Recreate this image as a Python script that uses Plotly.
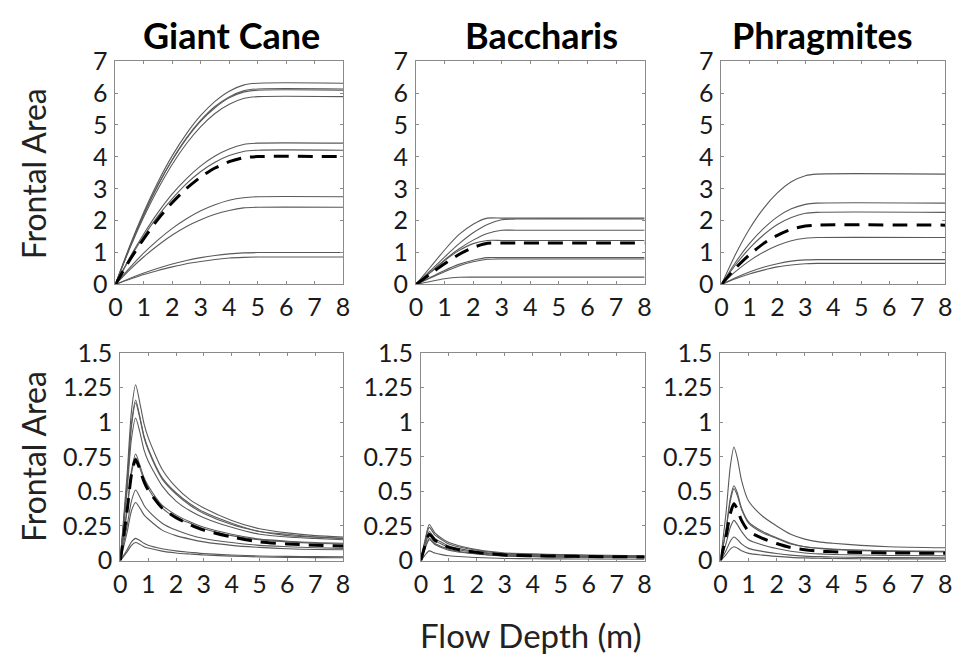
import plotly.graph_objects as go

# ---------------- data ----------------
PANELS = ["Giant Cane", "Baccharis", "Phragmites"]

# Top row: frontal area vs flow depth
X_TOP_GC = [0, 0.5, 1, 1.5, 2, 2.5, 3, 3.5, 4, 4.5, 5, 8]
GC_TOP = [
    [0, 1.20, 2.27, 3.22, 4.04, 4.73, 5.30, 5.74, 6.06, 6.25, 6.31, 6.31],
    [0, 1.16, 2.21, 3.13, 3.92, 4.60, 5.15, 5.58, 5.88, 6.07, 6.13, 6.13],
    [0, 1.16, 2.19, 3.11, 3.90, 4.57, 5.12, 5.54, 5.85, 6.03, 6.09, 6.09],
    [0, 1.12, 2.12, 3.00, 3.77, 4.42, 4.95, 5.36, 5.65, 5.83, 5.89, 5.89],
    [0, 0.84, 1.59, 2.26, 2.84, 3.32, 3.72, 4.03, 4.25, 4.39, 4.43, 4.43],
    [0, 0.80, 1.52, 2.15, 2.69, 3.16, 3.54, 3.83, 4.04, 4.17, 4.21, 4.21],
    [0, 0.52, 0.99, 1.40, 1.76, 2.06, 2.31, 2.50, 2.64, 2.72, 2.75, 2.75],
    [0, 0.46, 0.87, 1.23, 1.55, 1.82, 2.03, 2.20, 2.32, 2.40, 2.42, 2.42],
    [0, 0.19, 0.36, 0.51, 0.64, 0.75, 0.84, 0.91, 0.96, 0.99, 1.00, 1.00],
    [0, 0.16, 0.31, 0.44, 0.55, 0.65, 0.72, 0.78, 0.83, 0.85, 0.86, 0.86],
]
GC_TOP_MEAN = [0, 0.76, 1.44, 2.05, 2.57, 3.01, 3.37, 3.65, 3.85, 3.97, 4.01, 4.01]

X_TOP_BA = [0, 0.5, 1, 1.5, 2, 2.5, 3, 3.5, 8]
BA_TOP = [
    [0, 0.54, 1.08, 1.56, 1.89, 2.08, 2.08, 2.08, 2.08],
    [0, 0.43, 0.86, 1.27, 1.62, 1.88, 2.03, 2.05, 2.05],
    [0, 0.38, 0.77, 1.11, 1.39, 1.60, 1.70, 1.70, 1.70],
    [0, 0.37, 0.75, 1.06, 1.28, 1.38, 1.38, 1.38, 1.38],
    [0, 0.22, 0.44, 0.63, 0.76, 0.84, 0.84, 0.84, 0.84],
    [0, 0.20, 0.40, 0.58, 0.71, 0.79, 0.80, 0.80, 0.80],
    [0, 0.094, 0.177, 0.225, 0.23, 0.23, 0.23, 0.23, 0.23],
]
BA_TOP_MEAN = [0, 0.33, 0.65, 0.94, 1.16, 1.29, 1.30, 1.30, 1.30]

X_TOP_PH = [0, 0.5, 1, 1.5, 2, 2.5, 3, 3.4, 8]
PH_TOP = [
    [0, 0.94, 1.74, 2.38, 2.87, 3.22, 3.41, 3.46, 3.46],
    [0, 0.69, 1.28, 1.75, 2.12, 2.37, 2.51, 2.55, 2.55],
    [0, 0.61, 1.13, 1.55, 1.88, 2.10, 2.23, 2.26, 2.26],
    [0, 0.40, 0.74, 1.01, 1.22, 1.37, 1.45, 1.47, 1.47],
    [0, 0.21, 0.39, 0.54, 0.65, 0.73, 0.77, 0.78, 0.78],
    [0, 0.18, 0.33, 0.45, 0.55, 0.61, 0.65, 0.66, 0.66],
]
PH_TOP_MEAN = [0, 0.51, 0.93, 1.28, 1.54, 1.73, 1.83, 1.86, 1.86]

# Bottom row: frontal area per depth
X_BOT_GC = [0, 0.25, 0.4, 0.55, 0.7, 0.85, 1, 1.5, 2, 2.5, 3, 4, 5, 6, 7, 8]
GC_BOT = [
    [0, 0.64, 1.08, 1.27, 1.14, 0.99, 0.89, 0.66, 0.53, 0.44, 0.38, 0.29, 0.23, 0.20, 0.18, 0.17],
    [0, 0.58, 0.99, 1.16, 1.04, 0.90, 0.81, 0.60, 0.49, 0.41, 0.35, 0.27, 0.21, 0.19, 0.17, 0.16],
    [0, 0.57, 0.97, 1.14, 1.03, 0.89, 0.80, 0.59, 0.48, 0.40, 0.34, 0.26, 0.21, 0.18, 0.17, 0.16],
    [0, 0.52, 0.88, 1.03, 0.93, 0.80, 0.72, 0.54, 0.43, 0.36, 0.31, 0.24, 0.19, 0.17, 0.16, 0.15],
    [0, 0.39, 0.65, 0.77, 0.69, 0.60, 0.54, 0.40, 0.33, 0.28, 0.24, 0.19, 0.155, 0.14, 0.13, 0.125],
    [0, 0.37, 0.63, 0.74, 0.67, 0.58, 0.52, 0.38, 0.31, 0.27, 0.23, 0.18, 0.15, 0.135, 0.125, 0.12],
    [0, 0.26, 0.43, 0.51, 0.46, 0.40, 0.36, 0.27, 0.22, 0.185, 0.16, 0.13, 0.11, 0.10, 0.092, 0.088],
    [0, 0.21, 0.36, 0.42, 0.38, 0.33, 0.30, 0.22, 0.18, 0.155, 0.135, 0.11, 0.095, 0.085, 0.08, 0.078],
    [0, 0.08, 0.135, 0.16, 0.145, 0.125, 0.11, 0.085, 0.07, 0.06, 0.05, 0.04, 0.033, 0.03, 0.028, 0.027],
    [0, 0.065, 0.11, 0.13, 0.117, 0.10, 0.09, 0.068, 0.055, 0.047, 0.04, 0.032, 0.026, 0.023, 0.021, 0.02],
]
GC_BOT_MEAN = [0, 0.37, 0.62, 0.73, 0.66, 0.57, 0.51, 0.38, 0.31, 0.26, 0.22, 0.17, 0.135, 0.12, 0.11, 0.105]

X_BOT_BA = [0, 0.15, 0.3, 0.5, 0.75, 1, 1.5, 2, 2.5, 3, 4, 5, 6, 8]
BA_BOT = [
    [0, 0.15, 0.26, 0.20, 0.16, 0.13, 0.10, 0.08, 0.065, 0.055, 0.048, 0.043, 0.04, 0.035],
    [0, 0.14, 0.24, 0.185, 0.15, 0.12, 0.092, 0.074, 0.06, 0.05, 0.044, 0.04, 0.037, 0.032],
    [0, 0.12, 0.21, 0.16, 0.13, 0.105, 0.081, 0.065, 0.053, 0.044, 0.039, 0.035, 0.032, 0.028],
    [0, 0.11, 0.19, 0.146, 0.118, 0.095, 0.073, 0.059, 0.048, 0.04, 0.035, 0.031, 0.029, 0.026],
    [0, 0.093, 0.16, 0.123, 0.10, 0.08, 0.062, 0.05, 0.04, 0.034, 0.03, 0.026, 0.025, 0.022],
    [0, 0.087, 0.15, 0.116, 0.093, 0.075, 0.058, 0.047, 0.038, 0.032, 0.028, 0.025, 0.023, 0.02],
    [0, 0.04, 0.07, 0.054, 0.043, 0.035, 0.027, 0.022, 0.018, 0.015, 0.013, 0.012, 0.011, 0.009],
]
BA_BOT_MEAN = [0, 0.11, 0.19, 0.147, 0.118, 0.095, 0.073, 0.059, 0.048, 0.040, 0.035, 0.032, 0.029, 0.026]

X_BOT_PH = [0, 0.2, 0.35, 0.48, 0.6, 0.75, 1, 1.5, 2, 2.5, 3, 3.5, 4, 5, 6, 8]
PH_BOT = [
    [0, 0.35, 0.68, 0.82, 0.74, 0.58, 0.43, 0.32, 0.25, 0.19, 0.155, 0.135, 0.125, 0.11, 0.10, 0.092],
    [0, 0.23, 0.45, 0.54, 0.49, 0.38, 0.28, 0.21, 0.165, 0.125, 0.10, 0.09, 0.083, 0.075, 0.07, 0.066],
    [0, 0.22, 0.43, 0.52, 0.47, 0.37, 0.27, 0.20, 0.16, 0.12, 0.10, 0.087, 0.08, 0.072, 0.067, 0.062],
    [0, 0.125, 0.24, 0.29, 0.26, 0.21, 0.15, 0.113, 0.087, 0.067, 0.055, 0.048, 0.044, 0.04, 0.037, 0.035],
    [0, 0.073, 0.14, 0.17, 0.153, 0.12, 0.088, 0.066, 0.051, 0.039, 0.032, 0.028, 0.026, 0.023, 0.021, 0.019],
    [0, 0.043, 0.083, 0.10, 0.09, 0.071, 0.052, 0.039, 0.03, 0.023, 0.019, 0.017, 0.015, 0.013, 0.012, 0.011],
]
PH_BOT_MEAN = [0, 0.176, 0.34, 0.41, 0.37, 0.29, 0.213, 0.16, 0.123, 0.094, 0.078, 0.068, 0.063, 0.058, 0.055, 0.052]

X_TICKS = [0, 1, 2, 3, 4, 5, 6, 7, 8]
X_TICKTEXT = ["0", "1", "2", "3", "4", "5", "6", "7", "8"]
TOP_YTICKS = [0, 1, 2, 3, 4, 5, 6, 7]
BOT_YTICKS = [0, 0.25, 0.5, 0.75, 1, 1.25, 1.5]
BOT_YTICKTEXT = ["0", "0.25", "0.5", "0.75", "1", "1.25", "1.5"]

# ---------------- figure ----------------
W, H = 963, 672
FONT = "Lato, 'Open Sans', sans-serif"
LINE_COL = "#5a5a5a"
AX_COL = "#8a8a8a"

# axis boxes in pixels (left, right), (top, bottom)
BOX_TOP = [(110, 341), (415, 647), (725, 952)]
BOX_BOT = [(115, 341), (420, 647), (724, 952)]
TOP_Y = (47.3, 281)
BOT_Y = (352.7, 570)
TITLE_X = [228, 542, 828]

fig = go.Figure()

data_sets = [
    (X_TOP_GC, GC_TOP, GC_TOP_MEAN), (X_TOP_BA, BA_TOP, BA_TOP_MEAN), (X_TOP_PH, PH_TOP, PH_TOP_MEAN),
    (X_BOT_GC, GC_BOT, GC_BOT_MEAN), (X_BOT_BA, BA_BOT, BA_BOT_MEAN), (X_BOT_PH, PH_BOT, PH_BOT_MEAN),
]

for i, (xs, curves, mean) in enumerate(data_sets):
    k = i + 1
    xa = "x" if k == 1 else f"x{k}"
    ya = "y" if k == 1 else f"y{k}"
    for c in curves:
        fig.add_trace(go.Scatter(x=xs, y=c, mode="lines", xaxis=xa, yaxis=ya,
                                 line=dict(color=LINE_COL, width=1.1, shape="spline", smoothing=0.7),
                                 showlegend=False, hoverinfo="skip"))
    fig.add_trace(go.Scatter(x=xs, y=mean, mode="lines", xaxis=xa, yaxis=ya,
                             line=dict(color="black", width=3, dash="15px,9px", shape="spline", smoothing=0.7),
                             showlegend=False, hoverinfo="skip"))

layout = dict(
    width=W, height=H, margin=dict(l=0, r=0, t=0, b=0),
    paper_bgcolor="white", plot_bgcolor="white",
    font=dict(family=FONT, color="#1a1a1a"),
)

for i in range(6):
    k = i + 1
    row_top = i < 3
    (l, r) = BOX_TOP[i] if row_top else BOX_BOT[i - 3]
    (t, b) = TOP_Y if row_top else BOT_Y
    xkey = "xaxis" if k == 1 else f"xaxis{k}"
    ykey = "yaxis" if k == 1 else f"yaxis{k}"
    ya = "y" if k == 1 else f"y{k}"
    xa = "x" if k == 1 else f"x{k}"
    common = dict(showline=True, linecolor=AX_COL, linewidth=1, mirror="ticks",
                  ticks="inside", ticklen=3, tickcolor=AX_COL, showgrid=False,
                  zeroline=False, tickfont=dict(family=FONT, size=25, color="#1a1a1a"),
                  fixedrange=True)
    layout[xkey] = dict(common, domain=[l / W, r / W], range=[0, 8], anchor=ya,
                        tickvals=X_TICKS, ticktext=X_TICKTEXT, ticklabelstandoff=1)
    if row_top:
        layout[ykey] = dict(common, domain=[1 - b / H, 1 - t / H], range=[0, 7], anchor=xa,
                            tickvals=TOP_YTICKS, ticklabelstandoff=2)
    else:
        layout[ykey] = dict(common, domain=[1 - b / H, 1 - t / H], range=[0, 1.5], anchor=xa,
                            tickvals=BOT_YTICKS, ticktext=BOT_YTICKTEXT, ticklabelstandoff=2)

fig.update_layout(**layout)

annotations = []
for i, name in enumerate(PANELS):
    annotations.append(dict(text=f"<b>{name}</b>", x=TITLE_X[i] / W, y=1 - 20 / H,
                            xref="paper", yref="paper", showarrow=False,
                            font=dict(family=FONT, size=36, color="black"),
                            xanchor="center", yanchor="middle"))
for yc in (165, 461):
    annotations.append(dict(text="Frontal Area", x=27 / W, y=1 - yc / H, xref="paper", yref="paper",
                            showarrow=False, textangle=-90,
                            font=dict(family=FONT, size=32, color="#222"),
                            xanchor="center", yanchor="middle"))
annotations.append(dict(text="Flow Depth (m)", x=532 / W, y=1 - 648 / H, xref="paper", yref="paper",
                        showarrow=False, font=dict(family=FONT, size=33, color="#222"),
                        xanchor="center", yanchor="middle"))
fig.update_layout(annotations=annotations)

fig.write_html("out.html")
